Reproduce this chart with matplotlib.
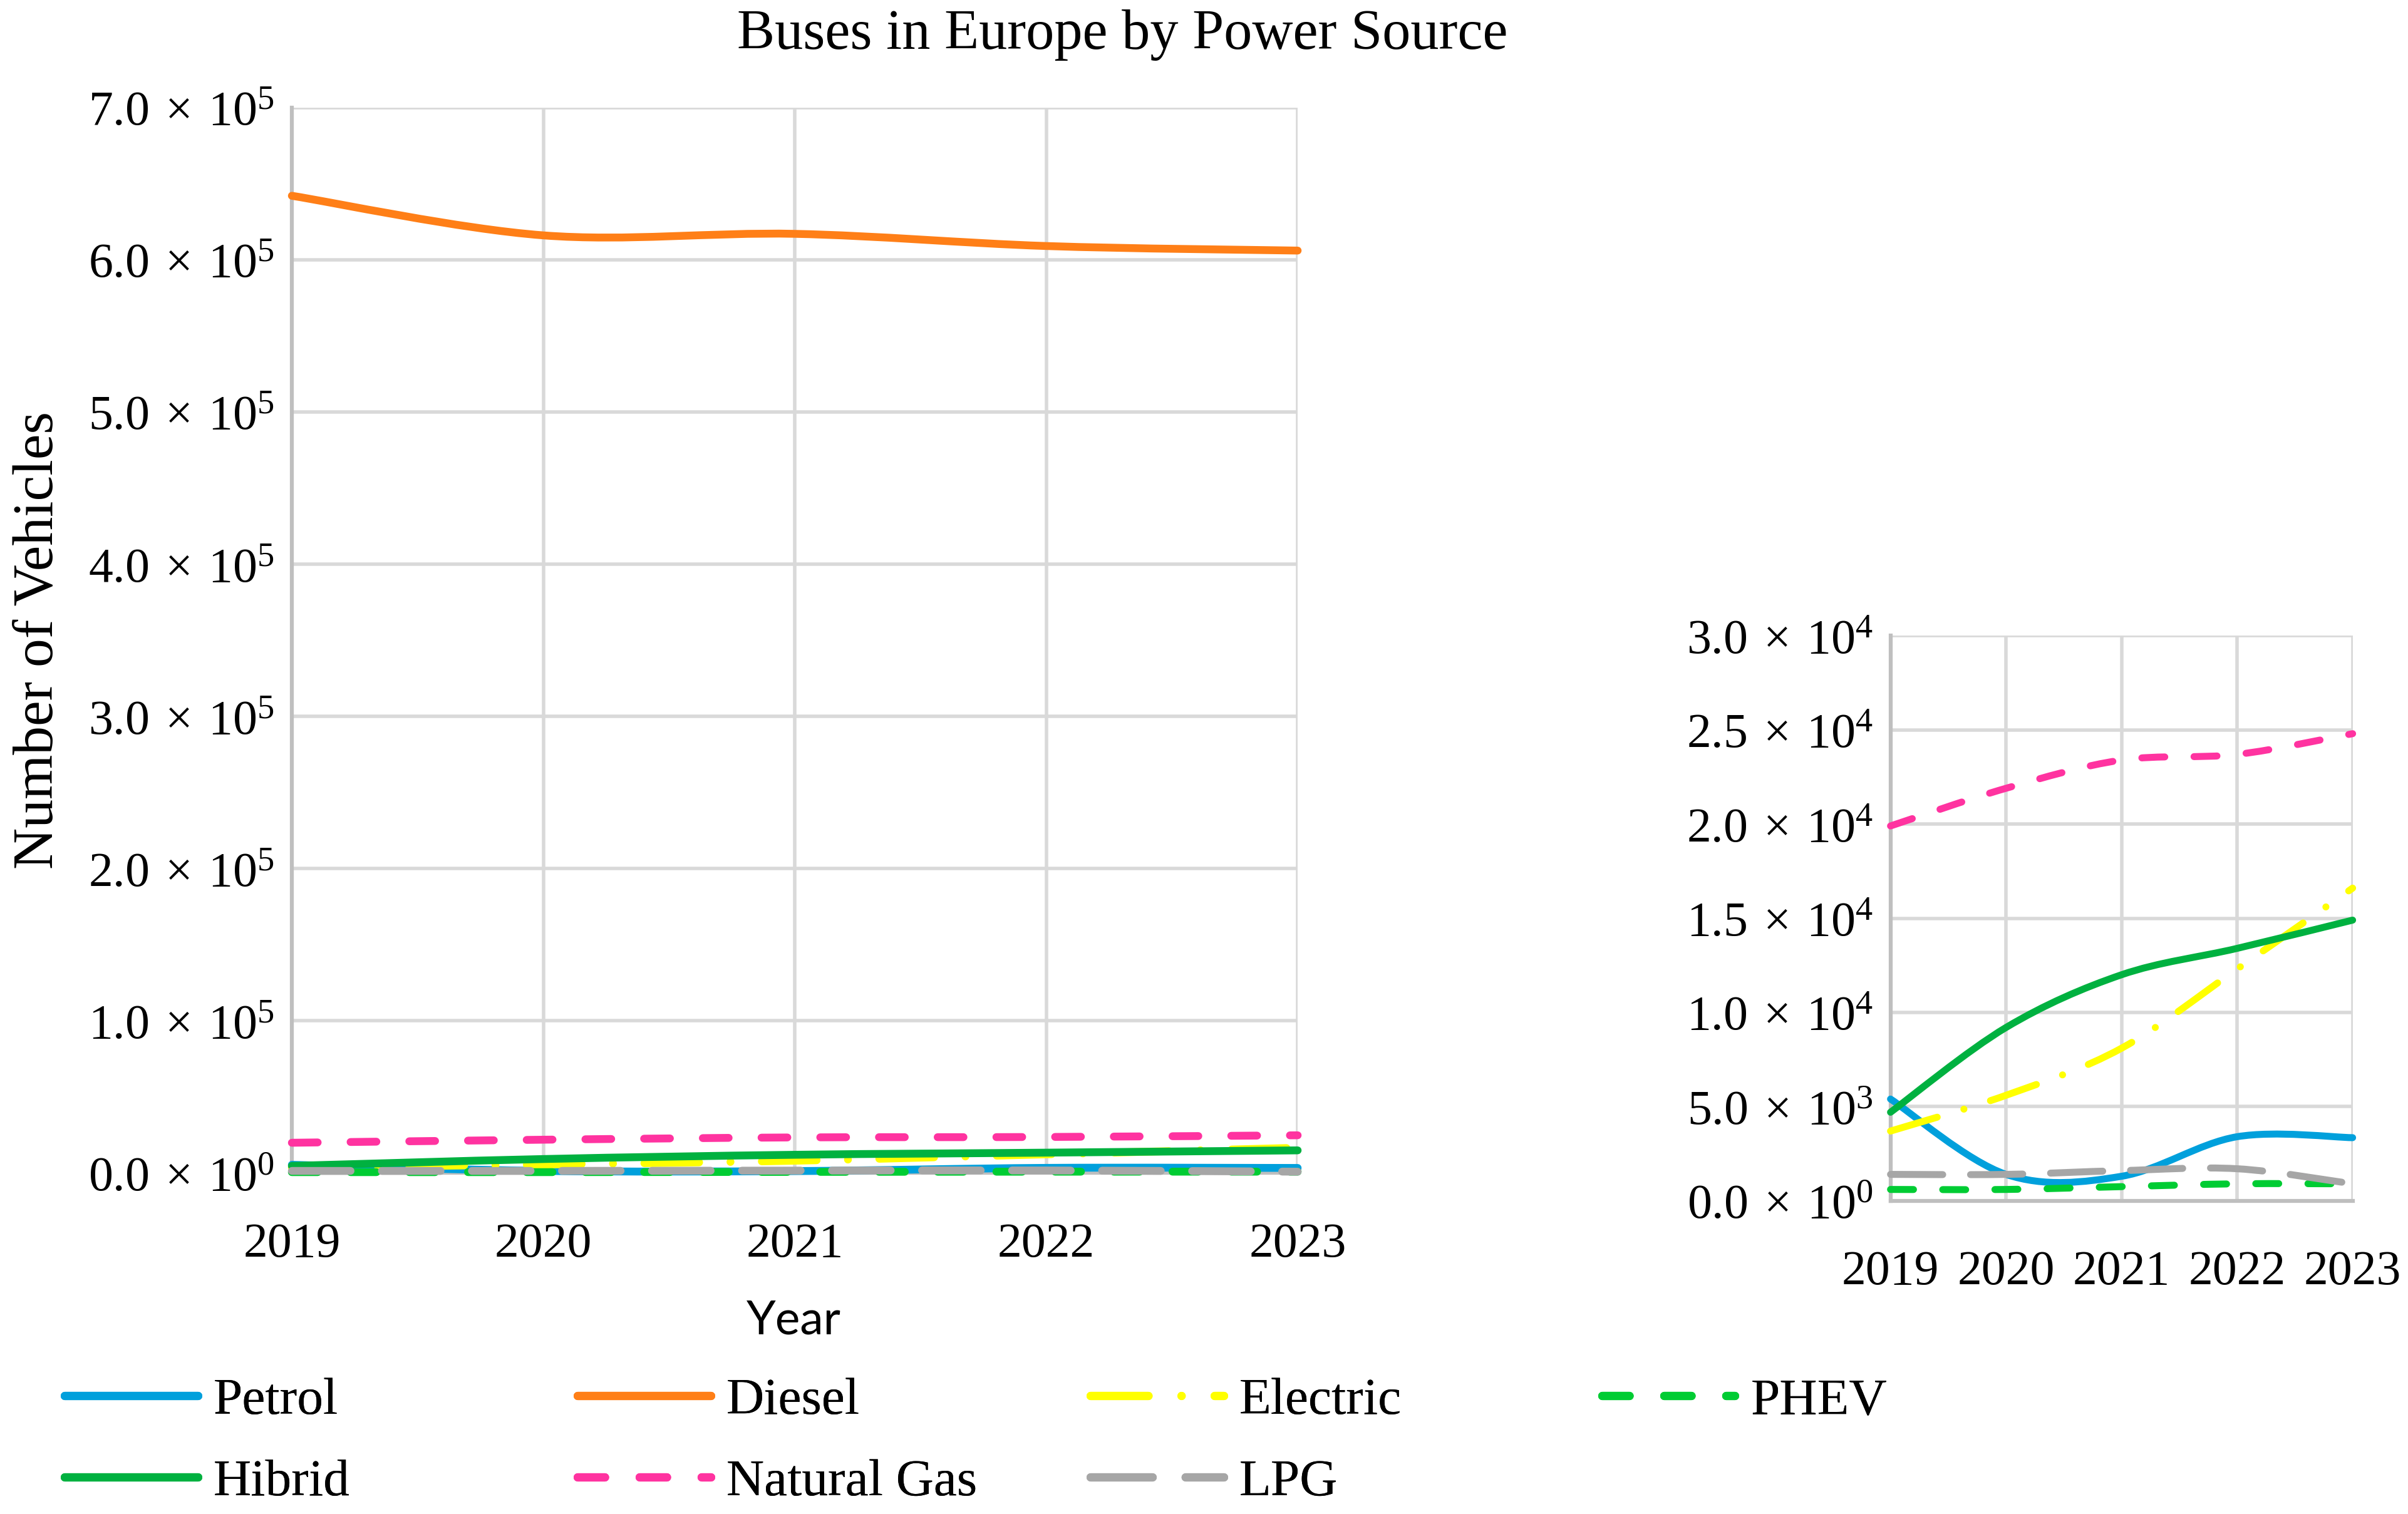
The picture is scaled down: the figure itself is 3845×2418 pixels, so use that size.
import numpy as np
import matplotlib
matplotlib.use('Agg')
import matplotlib.pyplot as plt
from matplotlib.path import Path
from matplotlib.patches import PathPatch
from matplotlib.lines import Line2D
from matplotlib.ticker import FuncFormatter, MultipleLocator

plt.rcParams['font.family'] = ['Liberation Serif', 'DejaVu Serif']
plt.rcParams['mathtext.fontset'] = 'custom'
plt.rcParams['mathtext.rm'] = 'Liberation Serif'

# data
years = [2019, 2020, 2021, 2022, 2023]
petrol = [5400, 1400, 1300, 3400, 3350]
diesel = [642000, 616000, 617000, 609000, 606000]
electric = [3700, 5600, 8100, 12300, 16600]
phev = [600, 600, 750, 900, 900]
hibrid = [4700, 9200, 12000, 13400, 14900]
natural_gas = [19900, 21900, 23400, 23700, 24800]
lpg = [1400, 1400, 1600, 1700, 900]

names = ['Petrol', 'Diesel', 'Electric', 'PHEV', 'Hibrid', 'Natural Gas', 'LPG']
series = [petrol, diesel, electric, phev, hibrid, natural_gas, lpg]
colors = ['#00A0DC', '#FF7F17', '#FFFF00', '#00CC33', '#00B140', '#FF33A0', '#A6A6A6']
# excel dash types in line-width units (round caps add one width per dash)
dashes = [None, None, (7, 4, 0.01, 4), (3.3, 4.2), None, (3.3, 4.2), (7.5, 4)]

FS = 56          # tick labels
FS_LEG = 60
FS_TITLE = 65
SERIF = 'Liberation Serif'


def smooth_path(x, y):
    # excel-like smoothed line: catmull-rom segments as cubic beziers
    pts = np.column_stack([x, y]).astype(float)
    n = len(pts)
    verts = [pts[0]]
    codes = [Path.MOVETO]
    for i in range(n - 1):
        p0 = pts[max(i - 1, 0)]
        p1 = pts[i]
        p2 = pts[i + 1]
        p3 = pts[min(i + 2, n - 1)]
        verts += [p1 + (p2 - p0) / 6.0, p2 - (p3 - p1) / 6.0, p2]
        codes += [Path.CURVE4] * 3
    return Path(verts, codes)


def sci_fmt(v, pos):
    if v <= 0:
        return r'$\mathregular{0.0\ ×\ 10^{0}}$'
    e = int(np.floor(np.log10(v) + 1e-9))
    m = v / 10 ** e
    return r'$\mathregular{%.1f\ ×\ 10^{%d}}$' % (m, e)


def draw_series(ax, lw):
    for ys, c, d in zip(series, colors, dashes):
        ls = '-' if d is None else (0, d)
        patch = PathPatch(smooth_path(years, ys), fill=False, edgecolor=c,
                          linewidth=lw, linestyle=ls, capstyle='round',
                          joinstyle='round', clip_on=False, zorder=3)
        ax.add_patch(patch)


def style_axes(ax, ymax, ystep):
    ax.set_xlim(2019, 2023)
    ax.set_ylim(0, ymax)
    ax.xaxis.set_major_locator(MultipleLocator(1))
    ax.yaxis.set_major_locator(MultipleLocator(ystep))
    ax.yaxis.set_major_formatter(FuncFormatter(sci_fmt))
    ax.grid(True, color='#D9D9D9', linewidth=4, zorder=0)
    ax.set_axisbelow(True)
    for s in ['top', 'right']:
        ax.spines[s].set_visible(False)
    for s in ['left', 'bottom']:
        ax.spines[s].set_color('#BFBFBF')
        ax.spines[s].set_linewidth(4.5)
    ax.tick_params(axis='both', length=0, labelsize=FS)
    ax.tick_params(axis='x', pad=57)
    ax.tick_params(axis='y', pad=20)


fig = plt.figure(figsize=(38.45, 24.18), dpi=100)

ax = fig.add_axes([0.1212, 0.2252, 0.4177, 0.7038])
style_axes(ax, 700000, 100000)
draw_series(ax, 9)

ax2 = fig.add_axes([0.7851, 0.2069, 0.1919, 0.3732])
style_axes(ax2, 30000, 5000)
draw_series(ax2, 8)

fig.text(0.466, 0.977, 'Buses in Europe by Power Source', ha='center', va='center',
         fontsize=FS_TITLE, family=SERIF)
fig.text(0.016, 0.577, 'Number of Vehicles', rotation=90, ha='center', va='center',
         fontsize=FS_TITLE + 1, family=SERIF)
fig.text(0.3297, 0.1278, 'Year', ha='center', va='center', fontsize=54, family='Lato')

# legend, one entry per slot to keep Excel's even column grid
col_x = [0.0268, 0.2398, 0.4528, 0.6652]
row_y = [0.0745, 0.0207]
for i, (nm, c, d) in enumerate(zip(names, colors, dashes)):
    ls = '-' if d is None else (0, d)
    h = Line2D([], [], color=c, linewidth=9.5, linestyle=ls, dash_capstyle='round',
               solid_capstyle='round')
    leg = fig.legend([h], [nm], loc='center left', bbox_to_anchor=(col_x[i % 4], row_y[i // 4]),
                     frameon=False, prop={'family': SERIF, 'size': FS_LEG},
                     handlelength=2.55, handletextpad=0.3, borderpad=0, borderaxespad=0)
    fig.add_artist(leg)

plt.savefig('out.png', dpi=100)
